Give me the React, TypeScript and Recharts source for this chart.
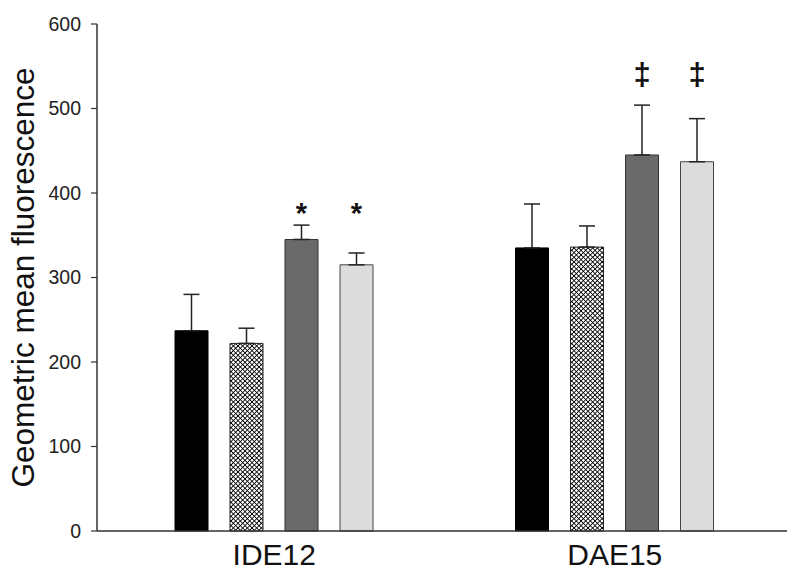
import React from "react";
import { Bar, BarChart, ErrorBar, Rectangle, XAxis, YAxis } from "recharts";

const CATEGORIES = ["IDE12", "DAE15"];
const BLACK = [237, 335];
const BLACK_ERR = [43, 52];
const HATCHED = [222, 336];
const HATCHED_ERR = [18, 25];
const DARK = [345, 445];
const DARK_ERR = [17, 59];
const LIGHT = [315, 437];
const LIGHT_ERR = [14, 51];
// significance markers and the level (in data units) they sit at
const DARK_MARK = ["*", "‡"];
const LIGHT_MARK = ["*", "‡"];
const MARK_LEVEL = [385, 538];
const Y_TICKS = [0, 100, 200, 300, 400, 500, 600];

const FONT = "'Liberation Sans', Arial, Helvetica, sans-serif";

const data = CATEGORIES.map((name, i) => ({
  name,
  black: BLACK[i],
  blackErr: [0, BLACK_ERR[i]],
  hatched: HATCHED[i],
  hatchedErr: [0, HATCHED_ERR[i]],
  dark: DARK[i],
  darkErr: [0, DARK_ERR[i]],
  darkMark: DARK_MARK[i],
  light: LIGHT[i],
  lightErr: [0, LIGHT_ERR[i]],
  lightMark: LIGHT_MARK[i],
  level: MARK_LEVEL[i],
}));

// bar rectangle plus an optional marker above it, placed through the bar's own px/unit
function barShape(dataKey: string, markKey?: string) {
  return (props: any) => {
    const { x, y, width, height, fill, stroke, strokeWidth, payload } = props;
    const value = payload[dataKey];
    const mark = markKey ? payload[markKey] : "";
    let markNode = null;
    if (mark && value > 0 && height > 0) {
      const pxPerUnit = height / value;
      const cy = y - (payload.level - value) * pxPerUnit;
      const star = mark === "*";
      markNode = (
        <text
          x={x + width / 2}
          y={star ? cy + 17 : cy + 9}
          textAnchor="middle"
          fontFamily={FONT}
          fontSize={star ? 29 : 31}
          fontWeight="bold"
          fill="#111"
        >
          {mark}
        </text>
      );
    }
    return (
      <g>
        <Rectangle
          x={x}
          y={y}
          width={width}
          height={height}
          fill={fill}
          stroke={stroke}
          strokeWidth={strokeWidth}
        />
        {markNode}
      </g>
    );
  };
}

const errProps = {
  width: 8,
  stroke: "#222",
  strokeWidth: 1.5,
  direction: "y" as const,
  isAnimationActive: false,
};

export default function App() {
  return (
    <div
      style={{
        position: "absolute",
        left: 0,
        top: 0,
        width: 800,
        height: 578,
        background: "#fff",
      }}
    >
      <svg width={0} height={0} style={{ position: "absolute" }}>
        <defs>
          <pattern
            id="xhatch"
            patternUnits="userSpaceOnUse"
            width={3.3}
            height={3.3}
            patternTransform="rotate(45)"
          >
            <rect width={3.3} height={3.3} fill="#fff" />
            <line x1={0} y1={0} x2={0} y2={3.3} stroke="#000" strokeWidth={1.7} />
            <line x1={0} y1={0} x2={3.3} y2={0} stroke="#000" strokeWidth={1.7} />
          </pattern>
        </defs>
      </svg>
      <BarChart
        width={800}
        height={578}
        data={data}
        margin={{ top: 24, right: 13, left: 0, bottom: 0 }}
        barSize={33}
        barGap={22}
      >
        <XAxis
          dataKey="name"
          height={47}
          padding={{ left: 7, right: 2 }}
          axisLine={{ stroke: "#333", strokeWidth: 1.5 }}
          tickLine={false}
          tickMargin={7}
          tick={{ fontSize: 30, fill: "#111", fontFamily: FONT }}
        />
        <XAxis
          xAxisId="top"
          dataKey="name"
          orientation="top"
          height={0}
          tick={false}
          tickLine={false}
          axisLine={{ stroke: "#333", strokeWidth: 1.5 }}
        />
        <YAxis
          width={97}
          domain={[0, 600]}
          ticks={Y_TICKS}
          interval={0}
          tickSize={6}
          tickMargin={10}
          axisLine={{ stroke: "#333", strokeWidth: 1.5 }}
          tickLine={{ stroke: "#333", strokeWidth: 1.2 }}
          tick={{ fontSize: 19.5, fill: "#222", fontFamily: FONT }}
          label={{
            content: (p: any) => {
              const vb = p.viewBox || { x: 0, y: 24, height: 507 };
              const cx = vb.x + 34;
              const cy = vb.y + vb.height / 2;
              return (
                <text
                  x={cx}
                  y={cy}
                  transform={`rotate(-90, ${cx}, ${cy})`}
                  textAnchor="middle"
                  fontFamily={FONT}
                  fontSize={31.5}
                  fill="#111"
                >
                  Geometric mean fluorescence
                </text>
              );
            },
          }}
        />
        <YAxis
          yAxisId="right"
          orientation="right"
          width={0}
          domain={[0, 600]}
          tick={false}
          tickLine={false}
          axisLine={{ stroke: "#333", strokeWidth: 1.5 }}
        />
        <Bar
          dataKey="black"
          name="Group 1"
          fill="#000"
          stroke="#000"
          strokeWidth={1}
          shape={barShape("black")}
          isAnimationActive={false}
        >
          <ErrorBar dataKey="blackErr" {...errProps} />
        </Bar>
        <Bar
          dataKey="hatched"
          name="Group 2"
          fill="url(#xhatch)"
          stroke="#222"
          strokeWidth={1}
          shape={barShape("hatched")}
          isAnimationActive={false}
        >
          <ErrorBar dataKey="hatchedErr" {...errProps} />
        </Bar>
        <Bar
          dataKey="dark"
          name="Group 3"
          fill="#6a6a6a"
          stroke="#333"
          strokeWidth={1}
          shape={barShape("dark", "darkMark")}
          isAnimationActive={false}
        >
          <ErrorBar dataKey="darkErr" {...errProps} />
        </Bar>
        <Bar
          dataKey="light"
          name="Group 4"
          fill="#dcdcdc"
          stroke="#444"
          strokeWidth={1}
          shape={barShape("light", "lightMark")}
          isAnimationActive={false}
        >
          <ErrorBar dataKey="lightErr" {...errProps} />
        </Bar>
      </BarChart>
    </div>
  );
}
